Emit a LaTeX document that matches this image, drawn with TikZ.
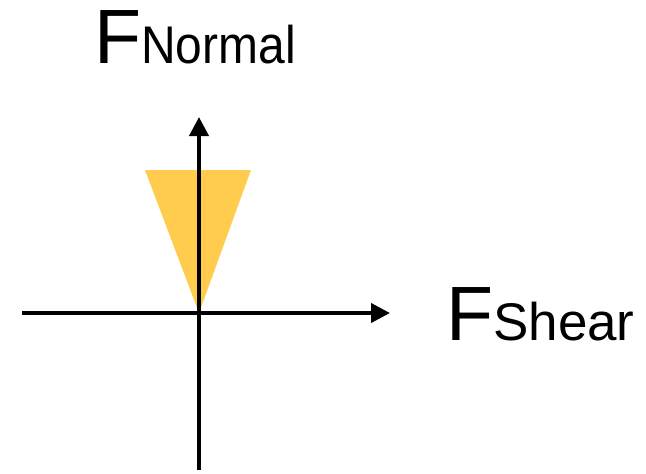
\documentclass[tikz,border=0pt]{standalone}
\usepackage{fontspec}
\setmainfont{Liberation Sans}
\usepackage{tikz}
\usetikzlibrary{arrows.meta}
\definecolor{coneyellow}{RGB}{255,204,77}
\tikzset{
    axis/.style={-{Triangle[length=19pt, width=19pt]}, line width=4pt},
    forcelabel/.style={inner sep=0pt, anchor=base west, font=\fontsize{77}{77}\selectfont},
}

\begin{document}
\begin{tikzpicture}[x=1pt, y=-1pt]
    \useasboundingbox (0,0) rectangle (646,474);
    \coordinate (o) at (199,313);
    \coordinate (top) at (199,117);
    \coordinate (bottom) at (199,470);
    \coordinate (left) at (22,313);
    \coordinate (right) at (390,313);
    \fill[coneyellow] (o) -- (145,170) -- (251,170) -- cycle;
    \draw[axis] (left) -- (right);
    \draw[axis] (bottom) -- (top);
    \node[forcelabel] (normal) at (94,63) {F{\fontsize{53}{53}\selectfont\scalebox{0.905}[1]{Normal}}};
    \node[forcelabel] (shear) at (446,340) {F{\fontsize{53}{53}\selectfont Shear}};
\end{tikzpicture}
\end{document}
